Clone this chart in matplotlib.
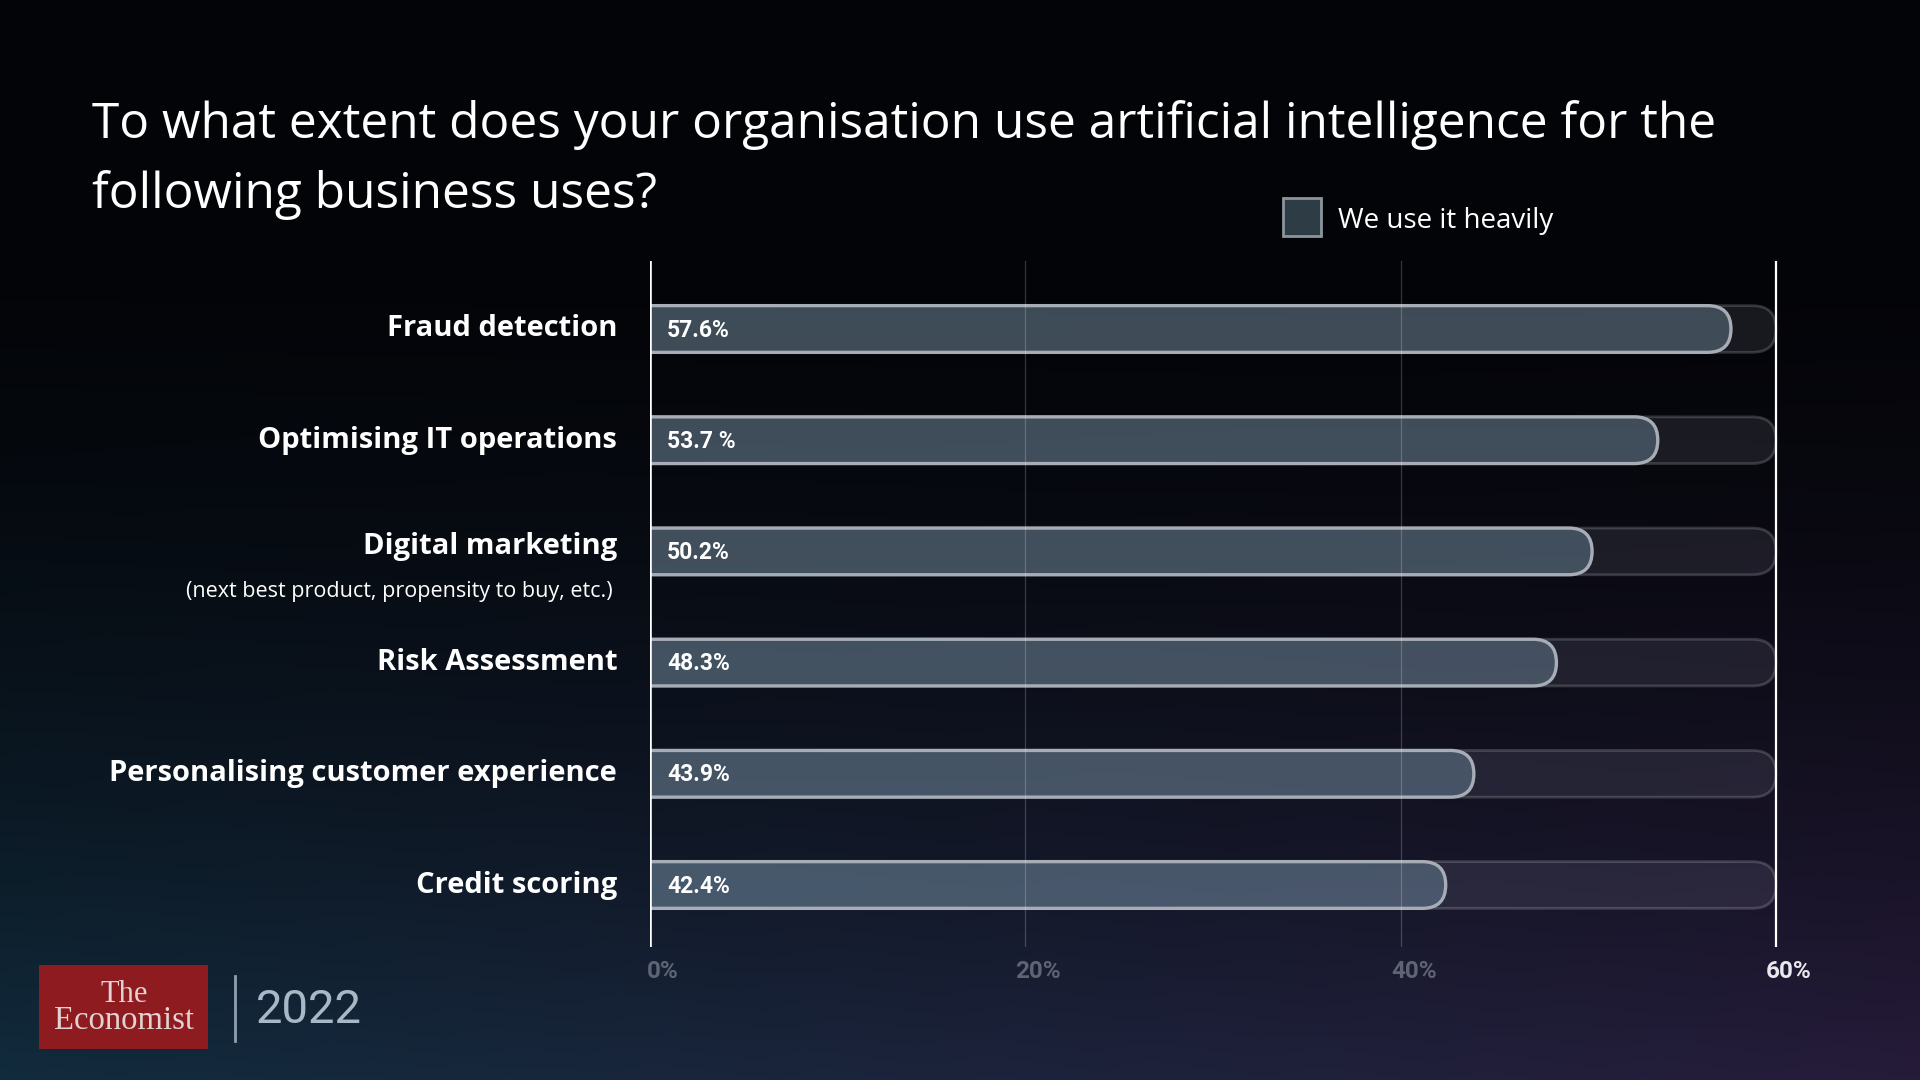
import numpy as np
import matplotlib
matplotlib.use("Agg")
import matplotlib.pyplot as plt
from matplotlib.patches import FancyBboxPatch, Rectangle
from matplotlib.transforms import ScaledTranslation

# data
categories = ["Fraud detection", "Optimising IT operations", "Digital marketing",
              "Risk Assessment", "Personalising customer experience", "Credit scoring"]
values = [57.6, 53.7, 50.2, 48.3, 43.9, 42.4]
value_labels = ["57.6%", "53.7 %", "50.2%", "48.3%", "43.9%", "42.4%"]
sub_labels = {2: "(next best product, propensity to buy, etc.)"}
track_max = 60
ticks = [0, 20, 40, 60]
tick_labels = ["0%", "20%", "40%", "60%"]

W, H = 1920, 1080
fig = plt.figure(figsize=(W / 100, H / 100), dpi=100)

# background gradient in pixel space
bg = fig.add_axes([0, 0, 1, 1])
bg.set_xlim(0, W)
bg.set_ylim(H, 0)
bg.axis("off")
yy, xx = np.mgrid[0:H:4, 0:W:4]
xf = xx / W
yf = yy / H
top = np.array([0.012, 0.016, 0.03])
bl = np.array([0.07, 0.17, 0.24])
br = np.array([0.15, 0.11, 0.23])
bottom = bl[None, None, :] * (1 - xf[..., None]) + br[None, None, :] * xf[..., None]
t = np.clip((yf - 0.2) / 0.8, 0, 1) ** 1.6
img = top[None, None, :] * (1 - t[..., None]) + bottom * t[..., None]
bg.imshow(img, extent=[0, W, H, 0], aspect="auto", zorder=0)

# main axes, pixel geometry of the reference
x0_px, x60_px = 650, 1776
px_per_unit = (x60_px - x0_px) / 60
xmax = 64
top_px, bot_px = 261, 947
row_px = 111.2
ylim_top = -(329 - top_px) / row_px
ylim_bot = (len(categories) - 1) + (bot_px - 885) / row_px
ax = fig.add_axes([x0_px / W, (H - bot_px) / H, xmax * px_per_unit / W, (bot_px - top_px) / H])
ax.set_xlim(0, xmax)
ax.set_ylim(ylim_bot, ylim_top)
ax.patch.set_alpha(0)
for s in ax.spines.values():
    s.set_visible(False)

bar_h = 0.42
aspect = (1 / row_px) / (1 / px_per_unit)
rad = bar_h / aspect / 2

for i, (v, lab) in enumerate(zip(values, value_labels)):
    track = FancyBboxPatch((-5, i - bar_h / 2), track_max + 5, bar_h,
                           boxstyle=f"round,pad=0,rounding_size={rad}",
                           mutation_aspect=aspect, facecolor=(0.75, 0.75, 0.85, 0.11),
                           edgecolor=(1, 1, 1, 0.17), linewidth=2, zorder=2)
    ax.add_patch(track)
    bar = FancyBboxPatch((-5, i - bar_h / 2), v + 5, bar_h,
                         boxstyle=f"round,pad=0,rounding_size={rad}",
                         mutation_aspect=aspect, facecolor=(0.52, 0.66, 0.74, 0.36),
                         edgecolor="#a7adb6", linewidth=2.4, zorder=3)
    ax.add_patch(bar)
    ax.text(0.9, i + 0.01, lab, color="white", fontsize=16.5, fontweight="bold",
            family="Roboto", va="center", ha="left", zorder=5)

# grid and axis lines
for g in [20, 40]:
    ax.axvline(g, color="white", alpha=0.2, lw=0.9, zorder=4)
ax.axvline(0, color="white", lw=2.6, zorder=6)
ax.axvline(60, color="white", lw=1.6, zorder=6)

ax.set_yticks([])
ax.set_xticks(ticks)
ax.set_xticklabels(tick_labels, fontsize=17.5, fontweight="bold", family="Roboto")
ax.tick_params(axis="x", length=0, pad=9)
for lbl, c in zip(ax.get_xticklabels(), ["#5e6473", "#5e6473", "#5e6473", "#e8e8ee"]):
    lbl.set_color(c)
    lbl.set_transform(lbl.get_transform() + ScaledTranslation(0.13, 0, fig.dpi_scale_trans))

# category labels
for i, c in enumerate(categories):
    off = -0.04 if i in sub_labels else 0
    ax.text(-1.75, i + off, c, color="white", fontsize=21, fontweight="bold",
            family="Open Sans", ha="right", va="center")
    if i in sub_labels:
        ax.text(-2.0, i + 0.36, sub_labels[i], color="white", fontsize=15.5,
                family="Open Sans", ha="right", va="center")

# title
bg.text(92, 125, "To what extent does your organisation use artificial intelligence for the",
        color="white", fontsize=35.7, fontweight="medium", family="Open Sans", va="center", ha="left")
bg.text(92, 195, "following business uses?", color="white", fontsize=35.7,
        fontweight="medium", family="Open Sans", va="center", ha="left")

# legend
bg.add_patch(Rectangle((1283, 198), 38, 38, facecolor="#2e3c46", edgecolor="#8c959d", lw=2))
bg.text(1338, 221, "We use it heavily", color="white", fontsize=20, family="Open Sans",
        va="center", ha="left")

# logo
bg.add_patch(Rectangle((39, 965), 169, 84, facecolor="#8e1b1f", edgecolor="none"))
bg.text(124, 994, "The", color="#e2d2d2", fontsize=22, family="Liberation Serif",
        ha="center", va="center")
bg.text(124, 1021, "Economist", color="#e2d2d2", fontsize=23.5,
        family="Liberation Serif", ha="center", va="center")
bg.plot([235, 235], [976, 1041], color="#8fa0b0", lw=2)
bg.text(256, 1010, "2022", color="#a9b8c6", fontsize=34, family="Roboto",
        ha="left", va="center")

fig.savefig("out.png", dpi=100, facecolor="black")
